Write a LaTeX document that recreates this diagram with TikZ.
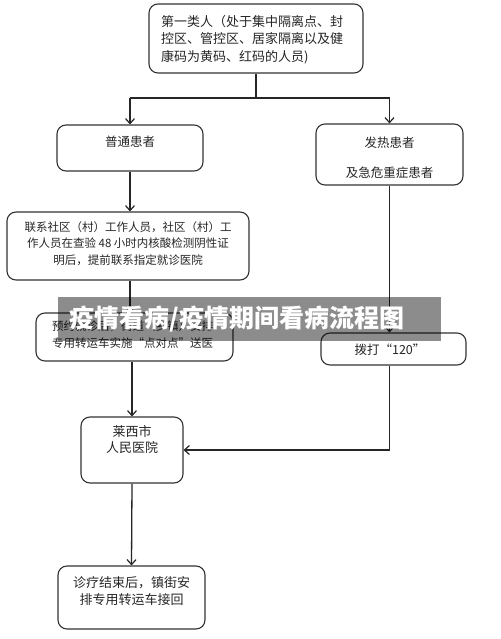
\documentclass[tikz,border=0pt]{standalone}
\usepackage{fontspec}
\setmainfont{Noto Sans CJK SC}
\usetikzlibrary{arrows.meta}
\begin{document}
\begin{tikzpicture}[x=1pt,y=-1pt,
  box/.style={draw=black!80, line width=1.1pt, rounded corners=9pt, inner sep=0pt},
  txt/.style={font=\fontsize{12.5}{17}\selectfont, text=black!85, inner sep=0pt, align=center},
  stxt/.style={font=\fontsize{11.5}{16.5}\selectfont, text=black!85, inner sep=0pt, align=center},
  ln/.style={line width=1.3pt, draw=black!85},
  arr/.style={ln, -{Straight Barb[length=5pt,width=9pt,line width=1.2pt]}},
  banner/.style={fill=black, fill opacity=0.45, inner sep=0pt},
  bantext/.style={inner sep=0pt, text=white, font=\fontsize{25}{30}\selectfont\bfseries}]
\useasboundingbox (0,0) rectangle (500,639);
\fill[white] (0,0) rectangle (500,639);

% boxes
\node[box, minimum width=214pt, minimum height=69pt] (b1) at (256,38.5) {};
\node[box, minimum width=146pt, minimum height=46pt] (b2) at (130,148) {};
\node[box, minimum width=147pt, minimum height=61pt] (b6) at (389.5,154.5) {};
\node[box, minimum width=242pt, minimum height=68pt] (b3) at (128,246) {};
\node[box, minimum width=197pt, minimum height=48pt] (b4) at (134.5,337) {};
\node[box, minimum width=145pt, minimum height=32pt] (b7) at (393.5,349) {};
\node[box, minimum width=102pt, minimum height=66pt] (b5) at (132,450) {};
\node[box, minimum width=147pt, minimum height=63pt] (b8) at (131.5,597.5) {};

% texts
\node[txt, align=left, anchor=west, font=\fontsize{13}{17.5}\selectfont] (t1) at (161,39.5)
  {第一类人（处于集中隔离点、封\\控区、管控区、居家隔离以及健\\康码为黄码、红码的人员)};
\node[txt] (t2) at (130,142) {普通患者};
\node[txt] (t6a) at (389.5,143) {发热患者};
\node[txt] (t6b) at (389.5,173) {及急危重症患者};
\node[stxt] (t3) at (128,243.5)
  {联系社区（村）工作人员，社区（村）工\\作人员在查验 48 小时内核酸检测阴性证\\明后，提前联系指定就诊医院};
\node[stxt] (t4) at (132.5,334.5)
  {预约就诊后，街道（乡镇）安排\\专用转运车实施“点对点”送医};
\node[txt] (t7) at (390,350) {拨打“120”};
\node[txt, font=\fontsize{13}{15.5}\selectfont] (t5) at (132,439.5) {莱西市\\人民医院};
\node[txt, font=\fontsize{13}{17}\selectfont] (t8) at (131.5,591.5) {诊疗结束后，镇街安\\排专用转运车接回};

% connectors
\coordinate (j) at (256,98);
\coordinate (jl) at (130,98);
\coordinate (jr) at (389.5,98);
\draw[ln] (b1.south) -- (j);
\draw[ln] (jl) -- (jr);
\draw[arr] (jl) -- (b2.north);
\draw[arr] (jr) -- (b6.north);
\draw[arr] (b2.south) -- (b2.south |- b3.north);
\draw[arr] (b2.south |- b3.south) -- (b2.south |- b4.north);
\draw[arr] (b5.north |- b4.south) -- (b5.north);
\draw[arr] (b6.south) -- (b6.south |- b7.north);
\draw[arr] (b6.south |- b7.south) |- (b5.east);
\draw[arr] (b5.south) -- (b8.north);

% banner
\node[banner, minimum width=383pt, minimum height=44pt] (ban) at (249.5,319) {};
\node[bantext] (bant) at (237,319) {疫情看病/疫情期间看病流程图};
\end{tikzpicture}
\end{document}
